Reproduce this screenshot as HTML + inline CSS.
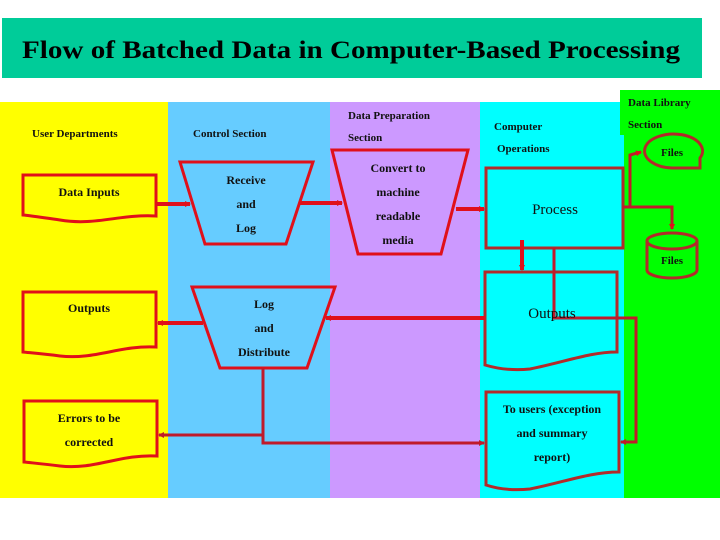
<!DOCTYPE html>
<html><head><style>
html,body{margin:0;padding:0;background:#fff;}
svg{display:block;font-family:"Liberation Serif",serif;}
.b{font-weight:bold;font-size:12px;fill:#111;}
.s{font-weight:bold;font-size:11px;fill:#111;}
</style></head><body>
<svg width="720" height="540" viewBox="0 0 720 540" xmlns="http://www.w3.org/2000/svg">
<defs>
<marker id="a" markerWidth="6" markerHeight="6" refX="5" refY="3" orient="auto" markerUnits="userSpaceOnUse"><path d="M0,0 L6,3 L0,6 z" fill="#e0101a"/></marker>
<marker id="ab" markerWidth="6" markerHeight="6" refX="5" refY="3" orient="auto" markerUnits="userSpaceOnUse"><path d="M0,0 L6,3 L0,6 z" fill="#c01a2a"/></marker>
</defs>
<rect width="720" height="540" fill="#fff"/>
<rect x="2" y="18" width="700" height="60" fill="#00cc99"/>
<text x="22" y="58" textLength="658" lengthAdjust="spacingAndGlyphs" font-size="25" font-weight="bold" fill="#000">Flow of Batched Data in Computer-Based Processing</text>
<rect x="0" y="102" width="168" height="396" fill="#ffff00"/>
<rect x="168" y="102" width="162" height="396" fill="#66ccff"/>
<rect x="330" y="102" width="150" height="396" fill="#cc99ff"/>
<rect x="480" y="102" width="144" height="396" fill="#00ffff"/>
<rect x="624" y="90" width="96" height="408" fill="#00ff00"/>
<rect x="620" y="90" width="6" height="45" fill="#00ff00"/>

<text class="s" x="32" y="137">User Departments</text>
<text class="s" x="193" y="137">Control Section</text>
<text class="s" x="348" y="119">Data Preparation</text>
<text class="s" x="348" y="141">Section</text>
<text class="s" x="494" y="130">Computer</text>
<text class="s" x="497" y="152">Operations</text>
<text class="s" x="628" y="106">Data Library</text>
<text class="s" x="628" y="128">Section</text>

<g fill="none" stroke="#e0101a" stroke-width="3">
<path d="M23,175 H156 V216 C120,214 95,226 60,220 C45,218 33,216 23,215 Z"/>
<path d="M23,292 H156 V347 C120,345 95,360 60,356 C45,354 33,353 23,352 Z"/>
<path d="M24,401 H157 V456 C120,454 95,470 60,466 C45,464 33,463 24,462 Z"/>
<path d="M180,162 H313 L286,244 H205 Z"/>
<path d="M192,287 H335 L307,368 H220 Z"/>
<path d="M332,150 H468 L441,254 H358 Z"/>
</g>
<g fill="none" stroke="#b22a2a" stroke-width="3">
<rect x="486" y="168" width="137" height="80"/>
<path d="M485,272 H617 V352 C590,352 565,362 530,369 C510,371 495,368 485,365 Z"/>
<path d="M486,392 H619 V472 C590,472 565,482 530,489 C510,491 495,488 486,485 Z"/>
<path d="M672,168 A29,17 0 1 1 700,158 V168 Z"/>
<ellipse cx="672" cy="241" rx="25" ry="8"/>
<path d="M647,241 V270 A25,8 0 0 0 697,270 V241"/>
</g>

<g stroke="#e0101a" stroke-width="4" fill="none">
<line x1="156" y1="204" x2="190" y2="204" marker-end="url(#a)"/>
<line x1="300" y1="203" x2="342" y2="203" marker-end="url(#a)"/>
<line x1="456" y1="209" x2="484" y2="209" marker-end="url(#a)"/>
<line x1="485" y1="318" x2="326" y2="318" marker-end="url(#a)"/>
<line x1="203" y1="323" x2="158" y2="323" marker-end="url(#a)"/>
<line x1="522" y1="240" x2="522" y2="270" marker-end="url(#a)"/>
</g>
<g stroke="#c01a2a" stroke-width="3" fill="none">
<path d="M263,368 V443 H484" marker-end="url(#ab)"/>
<line x1="263" y1="435" x2="159" y2="435" marker-end="url(#ab)"/>
<path d="M554,248 V318 H636 V442 H621" marker-end="url(#ab)"/>
<path d="M623,207 H672 V229" marker-end="url(#a)"/>
<path d="M630,207 V155 L641,152" marker-end="url(#a)"/>
</g>

<text class="b" x="89" y="196" text-anchor="middle">Data Inputs</text>
<text class="b" x="89" y="312" text-anchor="middle">Outputs</text>
<text class="b" x="89" y="422" text-anchor="middle">Errors to be</text>
<text class="b" x="89" y="446" text-anchor="middle">corrected</text>
<text class="b" x="246" y="184" text-anchor="middle">Receive</text>
<text class="b" x="246" y="208" text-anchor="middle">and</text>
<text class="b" x="246" y="232" text-anchor="middle">Log</text>
<text class="b" x="264" y="308" text-anchor="middle">Log</text>
<text class="b" x="264" y="332" text-anchor="middle">and</text>
<text class="b" x="264" y="356" text-anchor="middle">Distribute</text>
<text class="b" x="398" y="172" text-anchor="middle">Convert to</text>
<text class="b" x="398" y="196" text-anchor="middle">machine</text>
<text class="b" x="398" y="220" text-anchor="middle">readable</text>
<text class="b" x="398" y="244" text-anchor="middle">media</text>
<text x="555" y="214" text-anchor="middle" font-size="15" fill="#111">Process</text>
<text x="552" y="318" text-anchor="middle" font-size="15" fill="#111">Outputs</text>
<text class="b" x="552" y="413" text-anchor="middle">To users (exception</text>
<text class="b" x="552" y="437" text-anchor="middle">and summary</text>
<text class="b" x="552" y="461" text-anchor="middle">report)</text>
<text class="s" x="672" y="156" text-anchor="middle">Files</text>
<text class="s" x="672" y="264" text-anchor="middle">Files</text>
</svg>
</body></html>
